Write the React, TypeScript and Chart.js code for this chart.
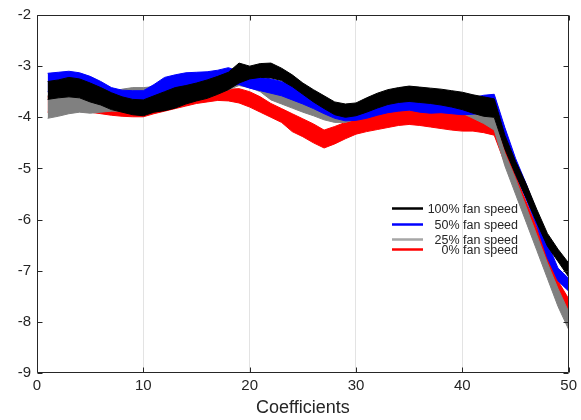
import React, { useEffect, useRef } from "react";
import { Chart, registerables } from "chart.js";

Chart.register(...registerables);

// ---- data ----
const coefficients = [
  1, 2, 3, 4, 5, 6, 7, 8, 9, 10, 11, 12, 13, 14, 15, 16, 17, 18, 19, 20, 21, 22, 23, 24, 25,
  26, 27, 28, 29, 30, 31, 32, 33, 34, 35, 36, 37, 38, 39, 40, 41, 42, 43, 44, 45, 46, 47, 48, 49, 50,
];
const xTickValues = [0, 10, 20, 30, 40, 50];
const yTickValues = [-9, -8, -7, -6, -5, -4, -3, -2];

const seriesNames = ["100% fan speed", "50% fan speed", "25% fan speed", "0% fan speed"];
const seriesColors = ["#000000", "#0000ff", "#808080", "#ff0000"];
const legendColors = ["#000000", "#0000ff", "#a6a6a6", "#ff0000"];

// upper / lower envelopes of each bundle of curves
const fan100Top = [
  -3.30, -3.27, -3.22, -3.25, -3.33, -3.42, -3.52, -3.60, -3.65, -3.66,
  -3.58, -3.50, -3.42, -3.38, -3.33, -3.27, -3.20, -3.12, -2.94, -3.00,
  -2.95, -2.94, -3.04, -3.17, -3.33, -3.46, -3.58, -3.70, -3.74, -3.72,
  -3.62, -3.53, -3.46, -3.42, -3.39, -3.41, -3.43, -3.45, -3.48, -3.51,
  -3.56, -3.60, -3.64, -4.35, -4.86, -5.30, -5.80, -6.27, -6.58, -6.85,
];
const fan100Bottom = [
  -3.65, -3.62, -3.60, -3.62, -3.70, -3.76, -3.85, -3.90, -3.95, -3.97,
  -3.90, -3.87, -3.82, -3.74, -3.68, -3.63, -3.55, -3.46, -3.33, -3.25,
  -3.22, -3.23, -3.28, -3.40, -3.55, -3.70, -3.83, -3.95, -4.00, -3.97,
  -3.90, -3.82, -3.75, -3.71, -3.69, -3.71, -3.73, -3.76, -3.80, -3.85,
  -3.92, -3.98, -4.00, -4.62, -5.12, -5.58, -6.06, -6.52, -6.82, -7.12,
];
const fan50Top = [
  -3.14, -3.12, -3.10, -3.13, -3.20, -3.30, -3.42, -3.47, -3.48, -3.48,
  -3.36, -3.22, -3.17, -3.13, -3.12, -3.11, -3.08, -3.03, -3.10, -3.22,
  -3.22, -3.25, -3.30, -3.38, -3.52, -3.66, -3.78, -3.90, -3.95, -3.93,
  -3.86, -3.78, -3.72, -3.66, -3.63, -3.64, -3.66, -3.66, -3.67, -3.67,
  -3.62, -3.57, -3.55, -4.20, -4.80, -5.30, -5.85, -6.45, -6.95, -7.15,
];
const fan50Bottom = [
  -3.50, -3.48, -3.45, -3.48, -3.55, -3.62, -3.72, -3.78, -3.80, -3.80,
  -3.72, -3.62, -3.55, -3.50, -3.47, -3.44, -3.40, -3.38, -3.36, -3.43,
  -3.48, -3.53, -3.58, -3.66, -3.74, -3.83, -3.93, -4.02, -4.07, -4.06,
  -4.02, -3.96, -3.91, -3.88, -3.86, -3.90, -3.92, -3.91, -3.93, -3.95,
  -3.94, -3.92, -3.90, -4.50, -5.10, -5.60, -6.12, -6.75, -7.20, -7.40,
];
const fan25Top = [
  -3.58, -3.56, -3.52, -3.53, -3.58, -3.58, -3.52, -3.45, -3.42, -3.42,
  -3.40, -3.36, -3.33, -3.30, -3.28, -3.25, -3.22, -3.20, -3.30, -3.35,
  -3.42, -3.48, -3.52, -3.60, -3.70, -3.80, -3.88, -3.95, -3.98, -3.92,
  -3.86, -3.80, -3.75, -3.72, -3.70, -3.72, -3.74, -3.74, -3.76, -3.78,
  -3.85, -3.90, -4.00, -4.70, -5.20, -5.75, -6.30, -6.85, -7.35, -7.80,
];
const fan25Bottom = [
  -4.02, -3.98, -3.93, -3.90, -3.92, -3.90, -3.88, -3.88, -3.88, -3.88,
  -3.82, -3.77, -3.72, -3.68, -3.63, -3.58, -3.52, -3.46, -3.38, -3.42,
  -3.50, -3.66, -3.74, -3.82, -3.90, -3.97, -4.05, -4.10, -4.10, -4.04,
  -4.00, -3.94, -3.89, -3.86, -3.85, -3.88, -3.90, -3.89, -3.90, -3.92,
  -4.02, -4.12, -4.25, -4.95, -5.50, -6.05, -6.60, -7.15, -7.70, -8.15,
];
const fan0Top = [
  -3.60, -3.60, -3.58, -3.62, -3.70, -3.75, -3.78, -3.80, -3.82, -3.82,
  -3.75, -3.70, -3.65, -3.62, -3.58, -3.55, -3.50, -3.45, -3.44, -3.50,
  -3.60, -3.73, -3.83, -3.93, -4.03, -4.13, -4.25, -4.18, -4.10, -4.05,
  -4.00, -3.95, -3.90, -3.87, -3.86, -3.88, -3.90, -3.90, -3.92, -3.94,
  -3.96, -4.00, -4.05, -4.60, -5.15, -5.65, -6.15, -6.70, -7.20, -7.55,
];
const fan0Bottom = [
  -3.90, -3.90, -3.88, -3.88, -3.90, -3.93, -3.96, -3.98, -3.99, -3.99,
  -3.93, -3.88, -3.83, -3.78, -3.73, -3.70, -3.67, -3.68, -3.72, -3.80,
  -3.90, -4.00, -4.10, -4.28, -4.38, -4.50, -4.60, -4.52, -4.42, -4.33,
  -4.28, -4.24, -4.20, -4.16, -4.14, -4.16, -4.19, -4.22, -4.25, -4.27,
  -4.27, -4.30, -4.35, -4.90, -5.42, -5.90, -6.40, -6.95, -7.45, -7.90,
];

const FONT = '"Liberation Sans", Arial, Helvetica, sans-serif';
const AXIS_COLOR = "#262626";

export default function App() {
  const ref = useRef<HTMLCanvasElement>(null);

  useEffect(() => {
    if (!ref.current) return;
    const bands = [
      [fan100Top, fan100Bottom],
      [fan50Top, fan50Bottom],
      [fan25Top, fan25Bottom],
      [fan0Top, fan0Bottom],
    ];
    const datasets: any[] = [];
    bands.forEach(([top, bottom], i) => {
      const c = seriesColors[i];
      datasets.push({
        label: seriesNames[i],
        data: coefficients.map((x, j) => ({ x, y: top[j] })),
        borderColor: c,
        backgroundColor: c,
        borderWidth: 1,
        pointRadius: 0,
        fill: false,
        tension: 0,
      });
      datasets.push({
        label: seriesNames[i] + " (lower)",
        data: coefficients.map((x, j) => ({ x, y: bottom[j] })),
        borderColor: c,
        backgroundColor: c,
        borderWidth: 1,
        pointRadius: 0,
        fill: "-1",
        tension: 0,
      });
    });

    const framePlugin = {
      id: "frameAndLegend",
      afterDatasetsDraw(chart: any) {
        const { ctx, chartArea: a, scales } = chart;
        ctx.save();
        ctx.strokeStyle = AXIS_COLOR;
        ctx.lineWidth = 1;
        const L = Math.round(a.left) + 0.5;
        const R = Math.round(a.right) - 0.5;
        const T = Math.round(a.top) + 0.5;
        const B = Math.round(a.bottom) - 0.5;
        ctx.beginPath();
        ctx.rect(L, T, R - L, B - T);
        const tick = 5;
        xTickValues.forEach((v) => {
          const px = Math.round(scales.x.getPixelForValue(v)) + 0.5;
          ctx.moveTo(px, B);
          ctx.lineTo(px, B - tick);
          ctx.moveTo(px, T);
          ctx.lineTo(px, T + tick);
        });
        yTickValues.forEach((v) => {
          const py = Math.round(scales.y.getPixelForValue(v)) + 0.5;
          ctx.moveTo(L, py);
          ctx.lineTo(L + tick, py);
          ctx.moveTo(R, py);
          ctx.lineTo(R - tick, py);
        });
        ctx.stroke();

        // legend (inside the plot, no box)
        const rows = [208, 224, 239, 249];
        const lineX0 = 392;
        const lineX1 = 423;
        const textRight = 518;
        ctx.font = `12.5px ${FONT}`;
        ctx.textAlign = "right";
        ctx.textBaseline = "middle";
        seriesNames.forEach((name, i) => {
          const y = rows[i];
          ctx.strokeStyle = legendColors[i];
          ctx.lineWidth = 2.5;
          ctx.beginPath();
          ctx.moveTo(lineX0, y + 0.5);
          ctx.lineTo(lineX1, y + 0.5);
          ctx.stroke();
          ctx.fillStyle = AXIS_COLOR;
          ctx.fillText(name, textRight, y + 2);
        });
        ctx.restore();
      },
    };

    const chart = new Chart(ref.current, {
      type: "line",
      data: { datasets },
      plugins: [framePlugin],
      options: {
        animation: false,
        responsive: false,
        devicePixelRatio: 1,
        layout: { padding: { top: 14, right: 10, left: 0, bottom: 0 } },
        plugins: {
          legend: { display: false },
          tooltip: { enabled: false },
        },
        scales: {
          x: {
            type: "linear",
            min: 0,
            max: 50,
            afterFit: (s: any) => {
              s.height = 47;
            },
            afterBuildTicks: (s: any) => {
              s.ticks = xTickValues.map((v) => ({ value: v }));
            },
            ticks: {
              font: { family: FONT, size: 15 },
              color: AXIS_COLOR,
              padding: 4,
              maxRotation: 0,
            },
            grid: {
              drawTicks: false,
              color: (c: any) =>
                c.tick && (c.tick.value === 0 || c.tick.value === 50) ? "rgba(0,0,0,0)" : "#e3e3e3",
              lineWidth: 1,
            },
            border: { display: false },
            title: {
              display: true,
              text: "Coefficients",
              font: { family: FONT, size: 18 },
              color: AXIS_COLOR,
              padding: { top: 0, bottom: 1 },
            },
          },
          y: {
            type: "linear",
            min: -9,
            max: -2,
            afterFit: (s: any) => {
              s.width = 37;
            },
            afterBuildTicks: (s: any) => {
              s.ticks = yTickValues.map((v) => ({ value: v }));
            },
            ticks: {
              font: { family: FONT, size: 15 },
              color: AXIS_COLOR,
              padding: 6,
            },
            grid: { display: false, drawTicks: false },
            border: { display: false },
          },
        },
      },
    });
    return () => chart.destroy();
  }, []);

  return (
    <div style={{ position: "absolute", left: 0, top: 0, width: 581, height: 420, background: "#fff" }}>
      <canvas ref={ref} width={581} height={420} />
    </div>
  );
}
